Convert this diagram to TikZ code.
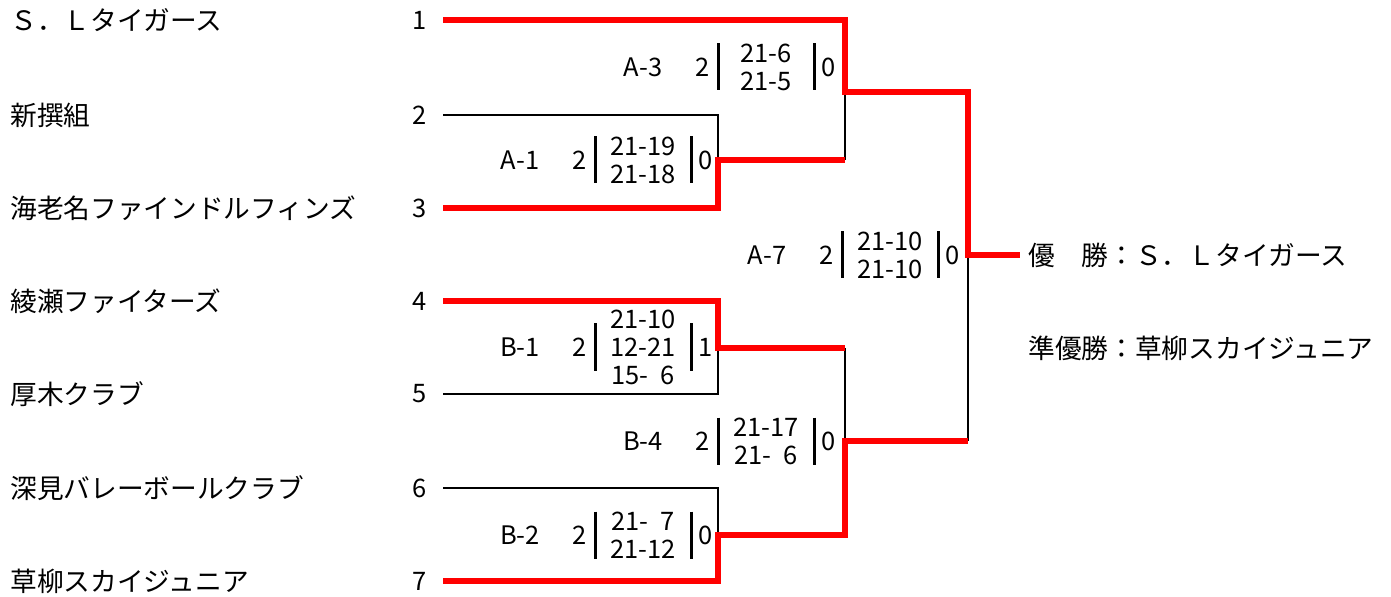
\documentclass[tikz,border=0pt]{standalone}
\usepackage{fontspec}
\setmainfont{Noto Sans CJK JP}
\usetikzlibrary{positioning}
\begin{document}
\begin{tikzpicture}[x=0.02cm,y=-0.02cm,
  team/.style={anchor=west,inner sep=0pt,font=\fontsize{15.2}{16}\selectfont},
  num/.style={inner sep=0pt,font=\fontsize{14.5}{15.9}\selectfont},
  scores/.style={align=center,inner sep=0pt,font=\fontsize{14.5}{15.9}\selectfont},
  lose/.style={line width=0.05cm,black},
  win/.style={line width=0.12cm,red,line join=miter},
  bar/.style={line width=0.06cm,black}]
  \useasboundingbox (0,0) rectangle (1391,597);
  % teams, seeds and line starts
  \foreach \t/\y [count=\i] in {Ｓ．Ｌタイガース/20,新撰組/115,海老名ファインドルフィンズ/208,
      綾瀬ファイターズ/301,厚木クラブ/394,深見バレーボールクラブ/488,草柳スカイジュニア/581}{
    \node[team] (t\i) at (10,\y) {\t};
    \node[num] (n\i) at (420,\y) {\i};
    \coordinate (s\i) at (443,\y);
  }
  % joints of the bracket
  \coordinate (a1) at (718,160);
  \coordinate (a3) at (845,92);
  \coordinate (b1) at (718,348);
  \coordinate (b2) at (718,535);
  \coordinate (b4) at (845,441);
  \coordinate (a7) at (968,255);
  \node[team,inner xsep=0.16cm] (champ) at (1020,255) {優　勝：Ｓ．Ｌタイガース};
  \node[team] (runner) at (1028,348) {準優勝：草柳スカイジュニア};
  % losers
  \draw[lose] (s2) -| (a1);
  \draw[lose] (a1 -| a3) -- (a3);
  \draw[lose] (s5) -| (b1);
  \draw[lose] (s6) -| (b2);
  \draw[lose] (b1 -| b4) -- (b4);
  \draw[lose] (a7) -- (b4 -| a7);
  % winners
  \draw[win] (s3) -| (a1) -- (a1 -| a3);
  \draw[win] (s1) -| (a3) -- (a3 -| a7) -- (a7) -- (champ.west);
  \draw[win] (s4) -| (b1) -- (b1 -| b4);
  \draw[win] (s7) -| (b2) -- (b2 -| b4) -- (b4) -- (b4 -| a7);
  % match results
  \foreach \m/\x/\y/\l/\sc/\r [count=\k] in {A-3/766/67/2/{21-6\\21-5}/0,
      A-1/643/160/2/{21-19\\21-18}/0, A-7/890/255/2/{21-10\\21-10}/0,
      B-1/643/347/2/{21-10\\12-21\\15-\enspace6}/1, B-4/766/441/2/{21-17\\21-\enspace6}/0,
      B-2/643/535/2/{21-\enspace7\\21-12}/0}{
    \node[scores] (sc\k) at (\x,\y) {\sc};
    \node[num] (mt\k) at (\x-123,\y) {\m};
    \node[num] (lw\k) at (\x-63,\y) {\l};
    \node[num] (rw\k) at (\x+63,\y) {\r};
    \draw[bar] (\x-48,\y-23.5) -- (\x-48,\y+23.5);
    \draw[bar] (\x+48,\y-23.5) -- (\x+48,\y+23.5);
  }
\end{tikzpicture}
\end{document}
